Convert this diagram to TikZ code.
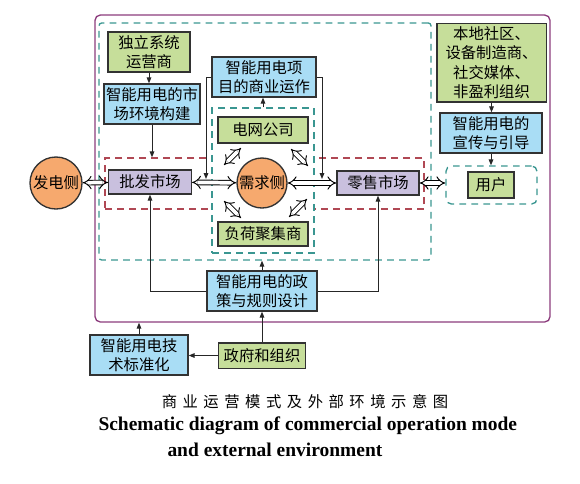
\documentclass[tikz,border=0pt]{standalone}
\usepackage{fontspec}
\setmainfont{Liberation Serif}
\newfontfamily\cjk{Noto Sans CJK SC}
\newfontfamily\cjkcap[LetterSpace=36]{Noto Sans CJK SC}
\usetikzlibrary{arrows.meta,positioning,fit}

\definecolor{boxgreen}{RGB}{198,222,154}
\definecolor{boxblue}{RGB}{169,221,245}
\definecolor{boxpurple}{RGB}{201,192,222}
\definecolor{circorange}{RGB}{246,169,110}
\definecolor{frameteal}{RGB}{58,150,145}
\definecolor{framered}{RGB}{176,72,84}
\definecolor{framepurple}{RGB}{140,60,125}
\definecolor{edgegray}{RGB}{50,50,50}

\tikzset{every picture/.style={line width=0.75pt}}
\tikzset{
  cbox/.style={draw=edgegray, line width=1pt, inner sep=0.5pt, align=center, font=\cjk\fontsize{11.5}{14.5}\selectfont},
  gbox/.style={cbox, fill=boxgreen},
  bbox/.style={cbox, fill=boxblue},
  pbox/.style={cbox, fill=boxpurple},
  obox/.style={cbox, circle, fill=circorange, inner sep=0pt},
  tealframe/.style={draw=frameteal, line width=1pt, dash pattern=on 5pt off 4pt, inner sep=0pt},
  redframe/.style={draw=framered, line width=1pt, dash pattern=on 5pt off 4pt, inner sep=0pt},
  sarrow/.style={draw=black!85, line width=0.75pt, -{Triangle[length=4.5pt,width=3.5pt]}},
  darrow/.style={double, double distance=2.8pt, line width=0.7pt, {Implies[length=4pt]}-{Implies[length=4pt]}},
}

\begin{document}
\begin{tikzpicture}[x=0.75pt,y=0.75pt,yscale=-1,xscale=1]
\path[use as bounding box] (0,0) rectangle (580,483);

%Frames
\node[fit={(95,15) (550,322)}, draw=framepurple, line width=1pt, rounded corners=4pt, inner sep=0pt] (outerframe) {};
\node[fit={(99,23) (431,260)}, tealframe, rounded corners=2pt] (outerteal) {};
\node[fit={(105,158) (424,209)}, redframe] (redbox) {};
\node[fit={(212,108) (314,253)}, tealframe, fill=white] (innerteal) {};
\node[fit={(446,166) (537,204)}, tealframe, rounded corners=4pt] (userframe) {};

%Boxes
\node[gbox, minimum width=61.5pt, minimum height=30pt] (dulei) at (149,52) {独立系统\\运营商};
\node[bbox, minimum width=72pt, minimum height=30pt] (shichang) at (152,104) {智能用电的市\\场环境构建};
\node[bbox, minimum width=78pt, minimum height=30pt] (shangye) at (264,77) {智能用电项\\目的商业运作};
\node[gbox, minimum width=67.5pt, minimum height=19.5pt] (dianwang) at (263,130) {电网公司};
\node[obox, minimum size=37.5pt] (xuqiu) at (262,183) {需求侧};
\node[gbox, minimum width=67.5pt, minimum height=18pt] (fuhe) at (263,234) {负荷聚集商};
\node[obox, minimum size=39pt] (fadian) at (56,183) {发电侧};
\node[pbox, minimum width=62pt, minimum height=18pt] (pifa) at (150,182) {批发市场};
\node[pbox, minimum width=61.5pt, minimum height=18pt] (lingshou) at (378,183) {零售市场};
\node[gbox, minimum width=34.5pt, minimum height=19.5pt] (yonghu) at (491,185) {用户};
\node[gbox, minimum width=82pt, minimum height=59pt] (bendi) at (491.5,62.5) {本地社区、\\设备制造商、\\社交媒体、\\非盈利组织};
\node[bbox, minimum width=76.5pt, minimum height=30pt] (xuanchuan) at (491,133) {智能用电的\\宣传与引导};
\node[bbox, minimum width=82.5pt, minimum height=30pt] (zhengce) at (262,291) {智能用电的政\\策与规则设计};
\node[gbox, minimum width=65pt, minimum height=19pt] (zhengfu) at (262,355.5) {政府和组织};
\node[bbox, minimum width=73.5pt, minimum height=30pt] (biaozhun) at (139,355) {智能用电技\\术标准化};

%Free ends
\coordinate (pl) at (206,179);
\coordinate (pr) at (322,179);
\coordinate (ula) at (224,165); \coordinate (ulb) at (241,148);
\coordinate (ura) at (291,149); \coordinate (urb) at (308,166);
\coordinate (lla) at (224,201); \coordinate (llb) at (241,218);
\coordinate (lra) at (289,217); \coordinate (lrb) at (307,199);

%Double arrows
\draw[darrow] (fadian) -- (pifa);
\draw[darrow] (pifa) -- (xuqiu);
\draw[darrow] (xuqiu) -- (lingshou);
\draw[darrow] (lingshou) -- (userframe.west |- lingshou);
\draw[darrow] (ula) -- (ulb);
\draw[darrow] (ura) -- (urb);
\draw[darrow] (lla) -- (llb);
\draw[darrow] (lra) -- (lrb);

%Single arrows
\draw[sarrow] (dulei.south) -- (dulei.south |- shichang.north);
\draw[sarrow] (shichang.south) -- (shichang.south |- redbox.north);
\draw[sarrow] (shangye.west) -| (pl);
\draw[sarrow] (shangye.east) -| (pr);
\draw[sarrow] (innerteal.north) -- (innerteal.north |- shangye.south);
\draw[sarrow] (bendi.south) -- (bendi.south |- xuanchuan.north);
\draw[sarrow] (xuanchuan.south) -- (xuanchuan.south |- userframe.north);
\draw[sarrow] (zhengce.north) -- (zhengce.north |- outerteal.south);
\draw[sarrow] (zhengce.west) -| (pifa.south);
\draw[sarrow] (zhengce.east) -| (lingshou.south);
\draw[sarrow] (zhengfu.north) -- (zhengfu.north |- zhengce.south);
\draw[sarrow] (zhengfu.west) -- (zhengfu.west -| biaozhun.east);
\draw[sarrow] (biaozhun.north) -- (biaozhun.north |- outerframe.south);

%Caption
\node[font=\cjkcap\fontsize{11.5}{14}\selectfont] (captioncn) at (305,402) {商业运营模式及外部环境示意图};
\node[font=\bfseries\fontsize{14.6}{17}\selectfont, anchor=west, inner sep=0pt] (captionen1) at (98,426) {Schematic diagram of commercial operation mode};
\node[font=\bfseries\fontsize{14.6}{17}\selectfont, anchor=west, inner sep=0pt] (captionen2) at (167,450) {and external environment};

\end{tikzpicture}
\end{document}
